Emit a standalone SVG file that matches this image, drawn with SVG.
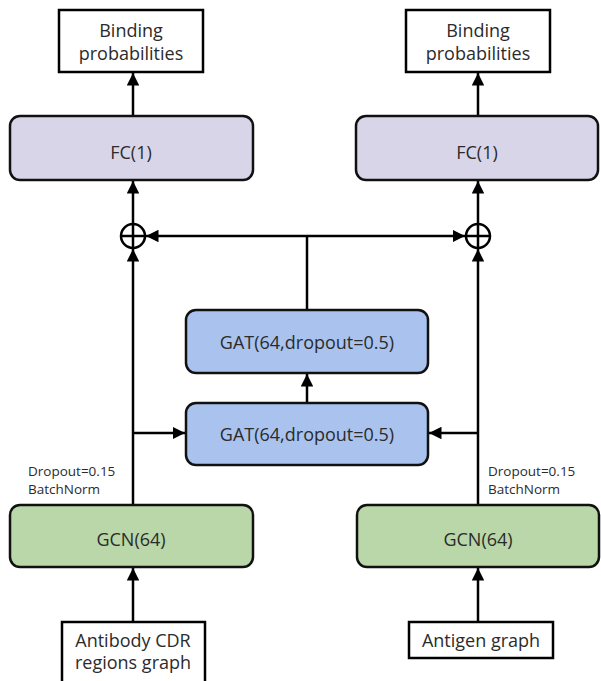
<svg xmlns="http://www.w3.org/2000/svg" width="601" height="681" viewBox="0 0 601 681">
<style>
.t{font-family:"Open Sans","Noto Sans","Liberation Sans",sans-serif;fill:#2b2b2b;text-anchor:middle;font-size:18px}
.s{font-family:"Open Sans","Noto Sans","Liberation Sans",sans-serif;fill:#2b2b2b;font-size:13.5px}
.box{fill:#fff;stroke:#000;stroke-width:2.5}
.fc{fill:#d9d5e8;stroke:#111;stroke-width:2.5}
.gat{fill:#a9c3ee;stroke:#111;stroke-width:2.5}
.gcn{fill:#b9d7a8;stroke:#111;stroke-width:2.5}
.c{stroke:#000;stroke-width:2.5;fill:none}
.a{stroke:#000;stroke-width:2.5;fill:none;marker-end:url(#ah)}
</style>
<defs>
<marker id="ah" viewBox="0 0 10 10" refX="10" refY="5" markerWidth="5" markerHeight="5" orient="auto" markerUnits="strokeWidth">
<path d="M0,0 L10,5 L0,10 Z" fill="#000"/>
</marker>
</defs>
<rect width="601" height="681" fill="#fff"/>
<g id="connectors">
<line class="a" x1="133" y1="116" x2="133" y2="73"/>
<line class="a" x1="478" y1="116" x2="478" y2="73"/>
<line class="a" x1="133" y1="224" x2="133" y2="181"/>
<line class="a" x1="478" y1="224" x2="478" y2="181"/>
<line class="a" x1="307" y1="236" x2="146" y2="236"/>
<line class="a" x1="307" y1="236" x2="465" y2="236"/>
<line class="c" x1="307" y1="236" x2="307" y2="310"/>
<line class="a" x1="307" y1="403" x2="307" y2="374"/>
<line class="a" x1="133" y1="505" x2="133" y2="249"/>
<line class="a" x1="478" y1="505" x2="478" y2="249"/>
<line class="a" x1="133" y1="433" x2="185" y2="433"/>
<line class="a" x1="478" y1="433" x2="429" y2="433"/>
<line class="a" x1="133" y1="622" x2="133" y2="568"/>
<line class="a" x1="478" y1="622" x2="478" y2="568"/>
</g>
<g id="out-left">
<rect class="box" x="59" y="10" width="144" height="62"/>
<text class="t" x="131" y="37">Binding</text>
<text class="t" x="131" y="60">probabilities</text>
</g>
<g id="out-right">
<rect class="box" x="406" y="10" width="144" height="62"/>
<text class="t" x="478" y="37">Binding</text>
<text class="t" x="478" y="60">probabilities</text>
</g>
<g id="fc-left">
<rect class="fc" x="10" y="116" width="243" height="64" rx="10"/>
<text class="t" x="131" y="159">FC(1)</text>
</g>
<g id="fc-right">
<rect class="fc" x="356" y="116" width="242" height="64" rx="10"/>
<text class="t" x="477" y="159">FC(1)</text>
</g>
<g id="sum-left">
<circle cx="133" cy="236" r="12" fill="#fff" stroke="#000" stroke-width="2.5"/>
<line class="c" x1="121" y1="236" x2="145" y2="236"/>
<line class="c" x1="133" y1="224" x2="133" y2="248"/>
</g>
<g id="sum-right">
<circle cx="478" cy="236" r="12" fill="#fff" stroke="#000" stroke-width="2.5"/>
<line class="c" x1="466" y1="236" x2="490" y2="236"/>
<line class="c" x1="478" y1="224" x2="478" y2="248"/>
</g>
<g id="gat-top">
<rect class="gat" x="186" y="310" width="242" height="63" rx="10"/>
<text class="t" x="307" y="349">GAT(64,dropout=0.5)</text>
</g>
<g id="gat-bottom">
<rect class="gat" x="186" y="403" width="242" height="62" rx="10"/>
<text class="t" x="307" y="441">GAT(64,dropout=0.5)</text>
</g>
<g id="gcn-left">
<text class="s" x="28" y="476">Dropout=0.15</text>
<text class="s" x="28" y="494">BatchNorm</text>
<rect class="gcn" x="10" y="505" width="243" height="62" rx="10"/>
<text class="t" x="131" y="546">GCN(64)</text>
</g>
<g id="gcn-right">
<text class="s" x="488" y="476">Dropout=0.15</text>
<text class="s" x="488" y="494">BatchNorm</text>
<rect class="gcn" x="357" y="505" width="242" height="62" rx="10"/>
<text class="t" x="478" y="546">GCN(64)</text>
</g>
<g id="in-left">
<rect class="box" x="62" y="622" width="143" height="64"/>
<text class="t" x="133" y="647">Antibody CDR</text>
<text class="t" x="133" y="669">regions graph</text>
</g>
<g id="in-right">
<rect class="box" x="409" y="622" width="144" height="36"/>
<text class="t" x="481" y="647">Antigen graph</text>
</g>
</svg>
